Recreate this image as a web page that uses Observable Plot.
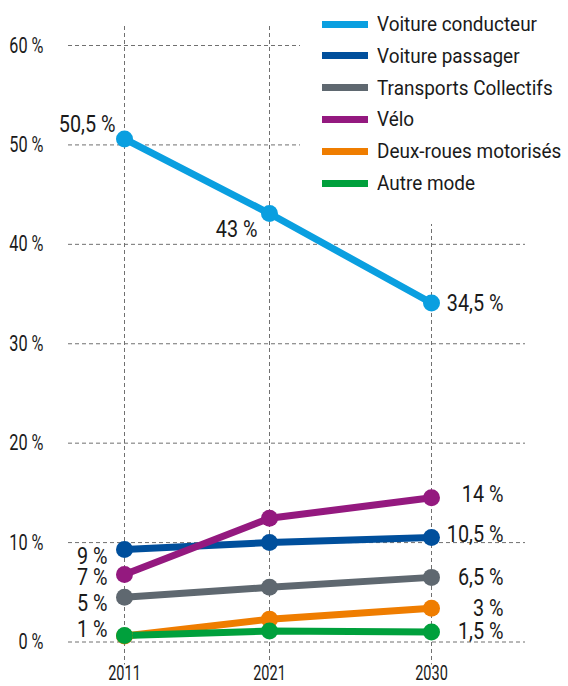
<!DOCTYPE html>
<html><head><meta charset="utf-8">
<script src="https://cdn.jsdelivr.net/npm/d3@7"></script>
<script src="https://cdn.jsdelivr.net/npm/@observablehq/plot@0.6"></script>
<style>
body{margin:0;background:#fff;}
#wrap{position:relative;width:568px;height:686px;overflow:hidden;}
#legend{position:absolute;left:300px;top:0;width:268px;height:224px;background:#fff;font-family:"Roboto",sans-serif;font-size:20px;color:#1a1a1a;}
.item{position:absolute;left:22px;height:24px;display:flex;align-items:center;white-space:nowrap;}
.sw{width:46px;height:7px;margin-right:9px;flex:none;}
.tx{display:inline-block;transform-origin:left center;}
</style>
</head><body><div id="wrap"></div>
<script>
const years = [2011, 2021, 2030];
const yTicks = [0, 10, 20, 30, 40, 50, 60];
const modes = ["Voiture conducteur", "Voiture passager", "Transports Collectifs", "Vélo", "Deux-roues motorisés", "Autre mode"];
const colors = ["#0a9fe0", "#004f9c", "#5f6870", "#94197f", "#ef7d00", "#00a03c"];
const voitureConducteur = [50.6, 43.1, 34.1];
const voiturePassager = [9.3, 10.0, 10.5];
const transportsCollectifs = [4.5, 5.5, 6.5];
const velo = [6.8, 12.45, 14.5];
const deuxRoues = [0.6, 2.3, 3.4];
const autreMode = [0.65, 1.1, 1.0];
const labelsConducteur = ["50,5 %", "43 %", "34,5 %"];
const labelsPassager = ["9 %", "", "10,5 %"];
const labelsTC = ["5 %", "", "6,5 %"];
const labelsVelo = ["7 %", "", "14 %"];
const labelsDeuxRoues = ["1 %", "", "3 %"];
const labelsAutre = ["", "", "1,5 %"];

const series = [voitureConducteur, voiturePassager, transportsCollectifs, velo, deuxRoues, autreMode];
const labels = [labelsConducteur, labelsPassager, labelsTC, labelsVelo, labelsDeuxRoues, labelsAutre];

const rows = modes.flatMap((m, i) => years.map((yr, j) => ({mode: m, year: yr, value: series[i][j], label: labels[i][j], si: i, yi: j})));

// layout nudges for value labels (pixels)
function nudge(d) {
  if (d.si === 0 && d.yi === 0) return {dx: -9, dy: -14};
  if (d.si === 0 && d.yi === 1) return {dx: -12, dy: 16};
  if (d.yi === 0) {
    const dyMap = {1: 7, 2: 6, 3: 3, 4: -6};
    return {dx: -17, dy: dyMap[d.si] || 0};
  }
  const dyMap2 = {0: 1, 1: -3, 3: -3};
  return {dx: 72, dy: dyMap2[d.si] || 0};
}

const font = '"Roboto",sans-serif';
const labelMarks = rows.filter(d => d.label).map(d => {
  const n = nudge(d);
  return Plot.text([d], {x: "year", y: "value", text: "label", dx: n.dx, dy: n.dy, textAnchor: "end", fontSize: 23, fill: "#1a1a1a", fontFamily: font});
});

const chart = Plot.plot({
  width: 568, height: 686,
  marginLeft: 68, marginRight: 43, marginTop: 45, marginBottom: 44.5,
  x: {type: "linear", domain: years, range: [124, 269, 431], label: null},
  y: {domain: [0, 60], label: null},
  color: {domain: modes, range: colors},
  style: {fontFamily: font, fontSize: "20px", color: "#1a1a1a", background: "#fff"},
  marks: [
    Plot.gridY(yTicks, {stroke: "#707070", strokeOpacity: 1, strokeDasharray: "4,3"}),
    Plot.ruleX(years, {x: d => d, stroke: "#707070", strokeDasharray: "4,3", insetTop: -19, insetBottom: -23}),
    Plot.axisY(yTicks, {tickSize: 0, tickPadding: 25, tickFormat: d => d + " %", fontSize: 22, fill: "#1a1a1a", label: null}),
    Plot.axisX(years, {tickSize: 0, tickPadding: 23, tickFormat: d => String(d), fontSize: 21, fill: "#1a1a1a", label: null}),
    Plot.line(rows, {x: "year", y: "value", z: "mode", stroke: "mode", strokeWidth: 7, strokeLinecap: "round", strokeLinejoin: "round"}),
    Plot.dot(rows, {x: "year", y: "value", fill: "mode", r: 8.5}),
    ...labelMarks
  ]
});

const wrap = document.getElementById("wrap");
wrap.appendChild(chart);

// condense the text horizontally (the reference uses a condensed typeface)
function condense(selector, factor) {
  chart.querySelectorAll(selector).forEach(t => {
    const len = t.getComputedTextLength();
    if (len > 0) {
      t.setAttribute("textLength", (len * factor).toFixed(2));
      t.setAttribute("lengthAdjust", "spacingAndGlyphs");
    }
  });
}
condense('g[aria-label="y-axis tick label"] text', 0.74);
condense('g[aria-label="x-axis tick label"] text', 0.69);
condense('g[aria-label="text"] text', 0.86);

const legend = document.createElement("div");
legend.id = "legend";
const txs = [];
modes.forEach((m, i) => {
  const it = document.createElement("div");
  it.className = "item";
  it.style.top = (12 + i * 31.8) + "px";
  const sw = document.createElement("span");
  sw.className = "sw";
  sw.style.background = colors[i];
  const tx = document.createElement("span");
  tx.className = "tx";
  tx.textContent = m;
  it.appendChild(sw); it.appendChild(tx);
  legend.appendChild(it);
  txs.push(tx);
});
wrap.appendChild(legend);
const w0 = txs[0].getBoundingClientRect().width;
const k = 160 / w0;
txs.forEach(t => t.style.transform = `scaleX(${k})`);
</script>
</body></html>
